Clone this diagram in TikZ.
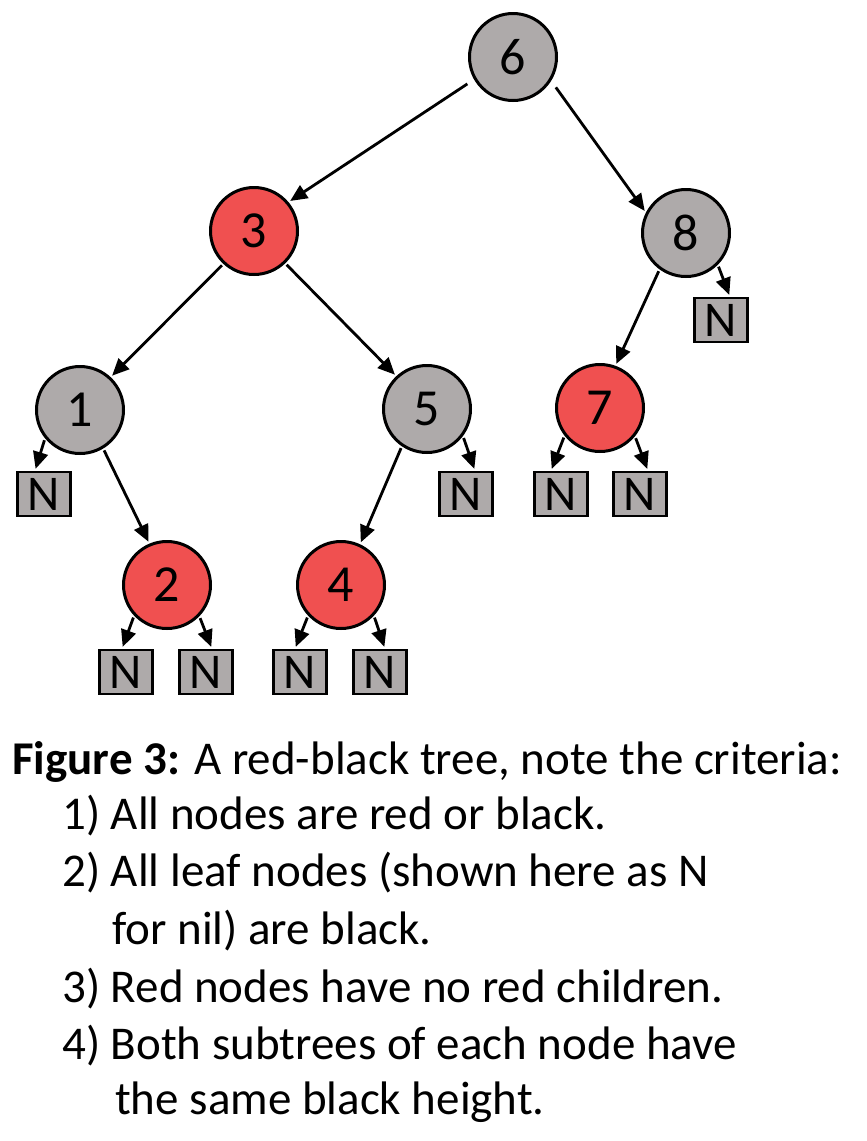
\documentclass[tikz,border=0pt]{standalone}
\usepackage{fontspec}
\setmainfont{Carlito}
\usetikzlibrary{arrows.meta}
\definecolor{ngray}{HTML}{AEAAAA}
\definecolor{nred}{HTML}{F05050}
\begin{document}
\begin{tikzpicture}[x=1pt,y=-1pt,
  rbnode/.style={circle,draw,line width=3pt,minimum size=87pt,inner sep=0pt,font=\fontsize{52}{52}\selectfont},
  blknode/.style={rbnode,fill=ngray},
  rednode/.style={rbnode,fill=nred},
  nilbox/.style={rectangle,draw,line width=2.5pt,fill=ngray,minimum width=53pt,minimum height=44pt,inner sep=0pt,font=\fontsize{50}{50}\selectfont},
  arr/.style={-{Triangle[length=17pt,width=15pt]},line width=2.8pt,shorten <=2pt,shorten >=2pt},
  captext/.style={anchor=base west,inner sep=0pt,font=\fontsize{47}{47}\selectfont}]
\useasboundingbox (0,0) rectangle (867,1141);
% tree nodes
\node[blknode] (n6) at (513,57) {6};
\node[rednode] (n3) at (254,231) {3};
\node[blknode] (n8) at (686,233) {8};
\node[blknode] (n1) at (80,410) {1};
\node[blknode] (n5) at (427,409) {5};
\node[rednode] (n7) at (600,408) {7};
\node[rednode] (n2) at (167,585) {2};
\node[rednode] (n4) at (341,585) {4};
% nil leaves
\node[nilbox] (l1) at (44,494) {N};
\node[nilbox] (r5) at (466,494) {N};
\node[nilbox] (l7) at (561,494) {N};
\node[nilbox] (r7) at (640,494) {N};
\node[nilbox] (r8) at (721,320) {N};
\node[nilbox] (l2) at (126,672) {N};
\node[nilbox] (r2) at (206,672) {N};
\node[nilbox] (l4) at (300,672) {N};
\node[nilbox] (r4) at (380,672) {N};
% edges
\draw[arr,shorten <=8pt] (n6.-150) -- (n3.40);
\draw[arr,shorten <=8pt] (n6.-32) -- (n8.153);
\draw[arr] (n3.-133) -- (n1.47);
\draw[arr] (n3.-46) -- (n5.133);
\draw[arr] (n8.-126) -- (n7.70);
\draw[arr] (n8.-45) -- ([xshift=9pt]r8.north);
\draw[arr] (n1.-141) -- ([xshift=-9pt]l1.north);
\draw[arr] (n1.-59) -- (n2.113);
\draw[arr] (n5.-124) -- (n4.65);
\draw[arr] (n5.-37) -- ([xshift=9pt]r5.north);
\draw[arr] (n7.-142) -- ([xshift=-10pt]l7.north);
\draw[arr] (n7.-39) -- ([xshift=8pt]r7.north);
\draw[arr] (n2.-137) -- ([xshift=-4pt]l2.north);
\draw[arr] (n2.-44) -- ([xshift=6pt]r2.north);
\draw[arr] (n4.-137) -- ([xshift=-5pt]l4.north);
\draw[arr] (n4.-43) -- ([xshift=5pt]r4.north);
% caption
\node[captext] (c0) at (12,774) {\textbf{Figure 3:} A red-black tree, note the criteria:};
\node[captext] (c1) at (62,829) {1) All nodes are red or black.};
\node[captext] (c2) at (62,886) {2) All leaf nodes (shown here as N};
\node[captext] (c3) at (112,944) {for nil) are black.};
\node[captext] (c4) at (62,1002) {3) Red nodes have no red children.};
\node[captext] (c5) at (62,1059) {4) Both subtrees of each node have};
\node[captext] (c6) at (115,1114) {the same black height.};
\end{tikzpicture}
\end{document}
